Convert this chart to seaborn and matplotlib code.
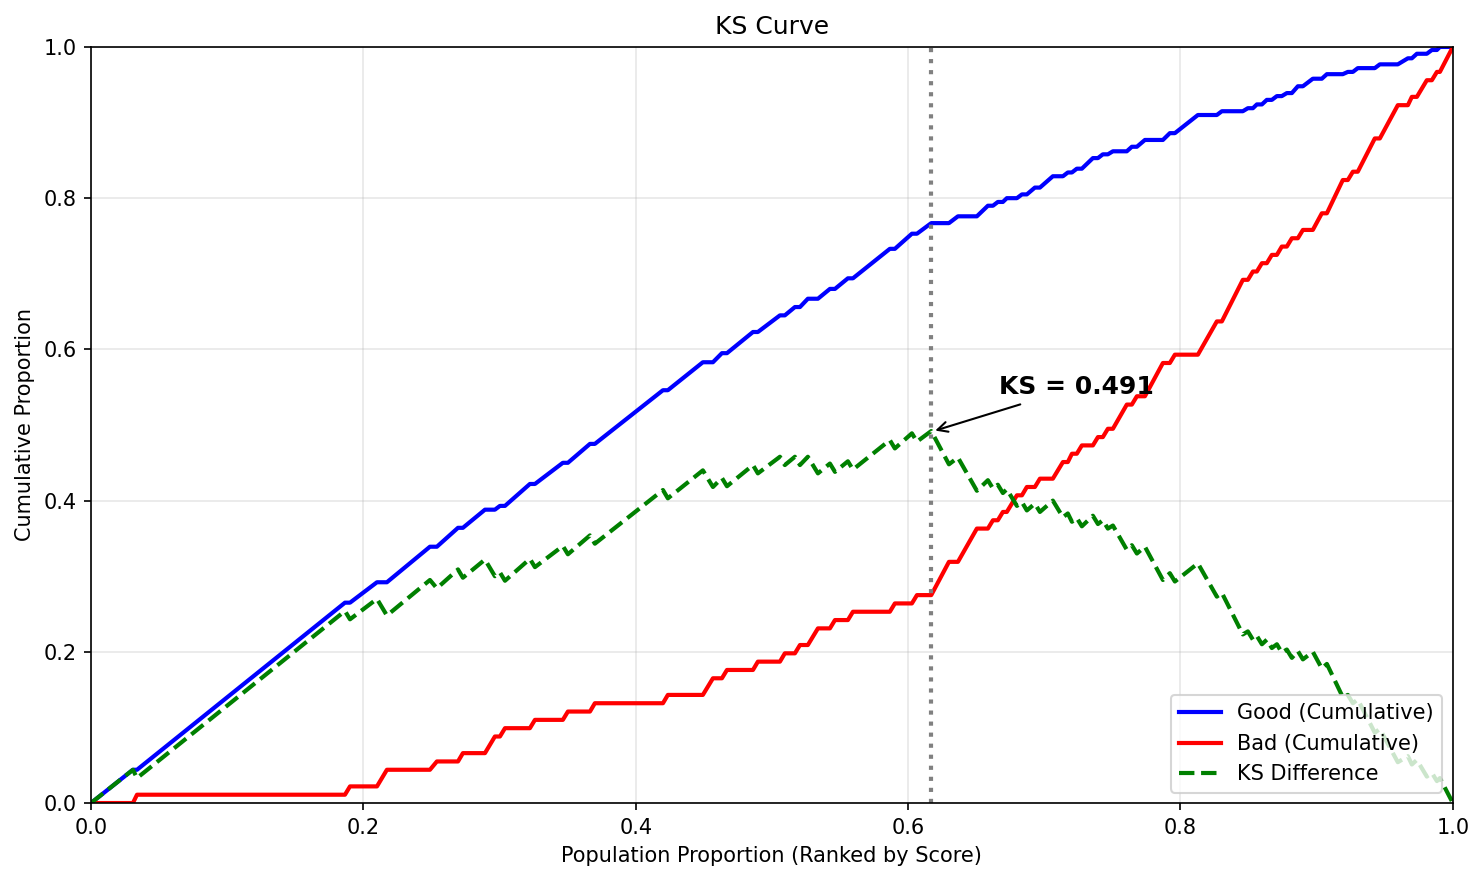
import numpy as np
import pandas as pd
import matplotlib
matplotlib.use("Agg")
import matplotlib.pyplot as plt
import seaborn as sns

# Population proportion (ranked by score) at each vertex of the curves
population = [
    0.0, 0.0308, 0.0338, 0.1865, 0.1902, 0.2100, 0.2173, 0.2489, 0.2540,
    0.2695, 0.2731, 0.2893, 0.2966, 0.3003, 0.3040, 0.3223, 0.3260, 0.3465,
    0.3502, 0.3664, 0.3700, 0.4200, 0.4236, 0.4493, 0.4567, 0.4633, 0.4670,
    0.4861, 0.4897, 0.5059, 0.5095, 0.5169, 0.5206, 0.5264, 0.5338, 0.5426,
    0.5463, 0.5558, 0.5595, 0.5866, 0.5903, 0.6028, 0.6065, 0.6170, 0.6300,
    0.6366, 0.6505, 0.6586, 0.6623, 0.6659, 0.6696, 0.6725, 0.6799, 0.6836,
    0.6872, 0.6931, 0.6968, 0.7063, 0.7137, 0.7173, 0.7203, 0.7239, 0.7276,
    0.7357, 0.7394, 0.7430, 0.7467, 0.7504, 0.7606, 0.7643, 0.7680, 0.7739,
    0.7871, 0.7922, 0.7959, 0.8128, 0.8267, 0.8304, 0.8458, 0.8495, 0.8532,
    0.8561, 0.8598, 0.8634, 0.8671, 0.8708, 0.8744, 0.8781, 0.8818, 0.8862,
    0.8899, 0.8972, 0.9038, 0.9075, 0.9192, 0.9229, 0.9266, 0.9302, 0.9427,
    0.9464, 0.9596, 0.9670, 0.9699, 0.9736, 0.9809, 0.9846, 0.9883, 0.9905,
    1.0,
]

good_cum = [
    0.0, 0.044, 0.044, 0.265, 0.265, 0.292, 0.292, 0.339, 0.339,
    0.364, 0.364, 0.388, 0.388, 0.393, 0.393, 0.422, 0.422, 0.450,
    0.450, 0.475, 0.475, 0.546, 0.546, 0.583, 0.583, 0.595, 0.595,
    0.623, 0.623, 0.645, 0.645, 0.656, 0.656, 0.667, 0.667, 0.680,
    0.680, 0.694, 0.694, 0.733, 0.733, 0.753, 0.753, 0.767, 0.767,
    0.776, 0.776, 0.790, 0.790, 0.795, 0.795, 0.800, 0.800, 0.805,
    0.805, 0.814, 0.814, 0.829, 0.829, 0.834, 0.834, 0.839, 0.839,
    0.853, 0.853, 0.858, 0.858, 0.862, 0.862, 0.868, 0.868, 0.877,
    0.877, 0.886, 0.886, 0.910, 0.910, 0.915, 0.915, 0.919, 0.919,
    0.924, 0.924, 0.930, 0.930, 0.935, 0.935, 0.939, 0.939, 0.948,
    0.948, 0.958, 0.958, 0.964, 0.964, 0.967, 0.967, 0.972, 0.972,
    0.977, 0.977, 0.985, 0.985, 0.991, 0.991, 0.996, 0.996, 1.000,
    1.000,
]

bad_cum = [
    0.0, 0.0, 0.011, 0.011, 0.022, 0.022, 0.044, 0.044, 0.055,
    0.055, 0.066, 0.066, 0.088, 0.088, 0.099, 0.099, 0.110, 0.110,
    0.121, 0.121, 0.132, 0.132, 0.143, 0.143, 0.165, 0.165, 0.176,
    0.176, 0.187, 0.187, 0.198, 0.198, 0.209, 0.209, 0.231, 0.231,
    0.242, 0.242, 0.253, 0.253, 0.264, 0.264, 0.275, 0.275, 0.319,
    0.319, 0.363, 0.363, 0.374, 0.374, 0.385, 0.385, 0.407, 0.407,
    0.418, 0.418, 0.429, 0.429, 0.451, 0.451, 0.462, 0.462, 0.473,
    0.473, 0.484, 0.484, 0.495, 0.495, 0.527, 0.527, 0.538, 0.538,
    0.582, 0.582, 0.593, 0.593, 0.637, 0.637, 0.692, 0.692, 0.703,
    0.703, 0.714, 0.714, 0.725, 0.725, 0.736, 0.736, 0.747, 0.747,
    0.758, 0.758, 0.780, 0.780, 0.824, 0.824, 0.835, 0.835, 0.879,
    0.879, 0.923, 0.923, 0.934, 0.934, 0.956, 0.956, 0.967, 0.967,
    1.000,
]

KS_VALUE = 0.491
KS_POINT = 0.617

df = pd.DataFrame({"population": population, "good": good_cum, "bad": bad_cum})
df["ks_diff"] = df["good"] - df["bad"]

fig, ax = plt.subplots(figsize=(1484 / 150, 881 / 150), dpi=150)
fig.subplots_adjust(left=0.0613, right=0.979, top=0.9467, bottom=0.0885)

sns.lineplot(data=df, x="population", y="good", color="blue", linewidth=2,
             label="Good (Cumulative)", estimator=None, ax=ax)
sns.lineplot(data=df, x="population", y="bad", color="red", linewidth=2,
             label="Bad (Cumulative)", estimator=None, ax=ax)
sns.lineplot(data=df, x="population", y="ks_diff", color="green", linewidth=2,
             linestyle="--", label="KS Difference", estimator=None, ax=ax)

# KS marker
ax.axvline(KS_POINT, color="gray", linestyle=":", linewidth=2)
ax.annotate(f"KS = {KS_VALUE:.3f}", xy=(KS_POINT, KS_VALUE),
            xytext=(KS_POINT + 0.05, KS_VALUE + 0.05),
            fontsize=12, fontweight="bold",
            arrowprops=dict(arrowstyle="->", color="black"))

ax.set_xlim(0, 1)
ax.set_ylim(0, 1)
ax.set_title("KS Curve")
ax.set_xlabel("Population Proportion (Ranked by Score)")
ax.set_ylabel("Cumulative Proportion")
ax.grid(True, alpha=0.3)
ax.legend(loc="lower right")

fig.savefig("out.png", dpi=150)
plt.close(fig)
